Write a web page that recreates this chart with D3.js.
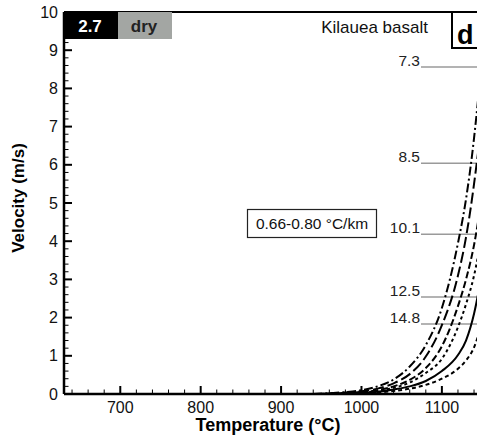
<!DOCTYPE html>
<html><head><meta charset="utf-8">
<script src="https://cdn.jsdelivr.net/npm/d3@7"></script>
<style>body{margin:0;background:#fff;} text{font-family:"Liberation Sans",Arial,sans-serif;}</style>
</head><body>
<svg id="c" width="477" height="437"></svg>
<script>
// ---- data ----
const xTicks = [700, 800, 900, 1000, 1100];
const yTicks = [0,1,2,3,4,5,6,7,8,9,10];
const curveStyles = ["dashdot","longdash","dash","dot","solid","shortdash"];
const tA = [940, 960, 980, 1000, 1020, 1040, 1060, 1080, 1100, 1120, 1130, 1140, 1150, 1160];
const vA = [0, 0.02, 0.05, 0.1, 0.2, 0.38, 0.72, 1.28, 2.25, 3.95, 5.1, 6.7, 8.9, 12];
const tB = [940, 960, 980, 1000, 1020, 1040, 1060, 1080, 1100, 1120, 1130, 1140, 1150, 1160];
const vB = [0, 0.01, 0.04, 0.07, 0.14, 0.28, 0.52, 0.98, 1.8, 3.1, 4.1, 5.5, 7.3, 10];
const tC = [950, 980, 1000, 1020, 1040, 1060, 1080, 1100, 1120, 1130, 1140, 1150, 1160, 1170];
const vC = [0, 0.03, 0.05, 0.1, 0.2, 0.37, 0.68, 1.25, 2.3, 3.0, 3.9, 5.2, 6.8, 9];
const tD = [950, 980, 1000, 1020, 1040, 1060, 1080, 1100, 1120, 1130, 1140, 1150, 1160, 1170];
const vD = [0, 0.02, 0.04, 0.08, 0.16, 0.3, 0.55, 0.92, 1.75, 2.35, 3.1, 4.2, 5.6, 7.5];
const tE = [950, 980, 1000, 1020, 1040, 1060, 1080, 1100, 1120, 1130, 1140, 1150, 1160];
const vE = [0, 0.02, 0.03, 0.06, 0.12, 0.2, 0.34, 0.6, 1.02, 1.4, 2.1, 3.2, 4.6];
const tF = [950, 980, 1000, 1020, 1040, 1060, 1080, 1100, 1120, 1130, 1140, 1150, 1160];
const vF = [0, 0.01, 0.02, 0.04, 0.08, 0.14, 0.24, 0.4, 0.66, 0.88, 1.22, 1.9, 2.8];
const curveT = [tA, tB, tC, tD, tE, tF];
const curveV = [vA, vB, vC, vD, vE, vF];
const gradLabels = ["7.3", "8.5", "10.1", "12.5", "14.8"];
const gradLabelV = [8.56, 6.04, 4.18, 2.54, 1.83];
const boxNum = "2.7";
const boxTag = "dry";
const titleText = "Kilauea basalt";
const panelText = "d";
const noteText = "0.66-0.80 °C/km";

// ---- layout ----
const svg = d3.select("#c");
const L = 64, T = 12, B = 394;
const x = d3.scaleLinear().domain([630, 1200]).range([L, L + 570 * 0.804]);
const y = d3.scaleLinear().domain([0, 10]).range([B, T]);

const dashes = {dashdot:"9,3,2,3", longdash:"11,4", dash:"7,3", dot:"3,3", solid:null, shortdash:"4,3"};

svg.append("defs").append("clipPath").attr("id","pc")
  .append("rect").attr("x", L).attr("y", T).attr("width", 600).attr("height", B - T);

// gradient label leader lines
const lg = svg.append("g");
gradLabels.forEach((lab, i) => {
  const yy = y(gradLabelV[i]);
  lg.append("line").attr("x1", 421).attr("x2", 520).attr("y1", yy).attr("y2", yy)
    .attr("stroke", "#9a9a9a").attr("stroke-width", 1.5);
  lg.append("text").attr("x", 420).attr("y", yy - 1).attr("text-anchor", "end")
    .attr("font-size", 15.5).attr("fill", "#222").text(lab);
});

// curves
const line = d3.line().x(d => x(d[0])).y(d => y(d[1])).curve(d3.curveMonotoneX);
const cg = svg.append("g").attr("clip-path", "url(#pc)");
curveT.forEach((ts, i) => {
  const pts = ts.map((t, j) => [t, curveV[i][j]]);
  const p = cg.append("path").attr("d", line(pts)).attr("fill", "none")
    .attr("stroke", "#000").attr("stroke-width", 2);
  const da = dashes[curveStyles[i]];
  if (da) p.attr("stroke-dasharray", da);
});

// axes ticks (inward)
const ax = svg.append("g");
d3.range(640, 1201, 20).forEach(v => {
  const major = v % 100 === 0;
  ax.append("line").attr("x1", x(v)).attr("x2", x(v)).attr("y1", B).attr("y2", B - (major ? 8 : 4.5))
    .attr("stroke", "#000").attr("stroke-width", major ? 2 : 1);
});
d3.range(0, 10.01, 0.2).forEach(v => {
  const major = Math.abs(v - Math.round(v)) < 1e-6;
  ax.append("line").attr("x1", L).attr("x2", L + (major ? 8 : 4.5)).attr("y1", y(v)).attr("y2", y(v))
    .attr("stroke", "#000").attr("stroke-width", major ? 2 : 1);
});
// frame
ax.append("line").attr("x1", L).attr("x2", 600).attr("y1", B).attr("y2", B).attr("stroke", "#000").attr("stroke-width", 2.5);
ax.append("line").attr("x1", L).attr("x2", L).attr("y1", T).attr("y2", B).attr("stroke", "#000").attr("stroke-width", 2.5);
ax.append("line").attr("x1", L).attr("x2", 600).attr("y1", T).attr("y2", T).attr("stroke", "#000").attr("stroke-width", 2);

// tick labels
xTicks.forEach(v => {
  ax.append("text").attr("x", x(v)).attr("y", 413).attr("text-anchor", "middle")
    .attr("font-size", 16).attr("fill", "#111").text(v);
});
yTicks.forEach(v => {
  ax.append("text").attr("x", 58).attr("y", y(v) + 5.5).attr("text-anchor", "end")
    .attr("font-size", 16).attr("fill", "#111").text(v);
});

// axis titles
svg.append("text").attr("x", 268).attr("y", 431).attr("text-anchor", "middle")
  .attr("font-size", 18).attr("font-weight", "bold").text("Temperature (°C)");
svg.append("text").attr("transform", "translate(24,198) rotate(-90)").attr("text-anchor", "middle")
  .attr("font-size", 17).attr("font-weight", "bold").text("Velocity (m/s)");

// top-left boxes
svg.append("rect").attr("x", L).attr("y", T).attr("width", 54).attr("height", 27).attr("fill", "#000");
svg.append("rect").attr("x", L + 54).attr("y", T).attr("width", 54).attr("height", 27).attr("fill", "#a3a6a3");
svg.append("text").attr("x", L + 26).attr("y", T + 20).attr("text-anchor", "middle")
  .attr("font-size", 17).attr("font-weight", "bold").attr("fill", "#fff").text(boxNum);
svg.append("text").attr("x", L + 80).attr("y", T + 20).attr("text-anchor", "middle")
  .attr("font-size", 17).attr("font-weight", "bold").attr("fill", "#222").text(boxTag);

// title and panel letter
svg.append("text").attr("x", 428).attr("y", 33).attr("text-anchor", "end")
  .attr("font-size", 17).attr("fill", "#111").text(titleText);
svg.append("rect").attr("x", 452).attr("y", T).attr("width", 60).attr("height", 36)
  .attr("fill", "#fff").attr("stroke", "#000").attr("stroke-width", 2);
svg.append("text").attr("x", 457).attr("y", 44).attr("font-size", 27).attr("font-weight", "bold").text(panelText);

// note box
svg.append("rect").attr("x", 247.5).attr("y", 209.5).attr("width", 129).attr("height", 28)
  .attr("fill", "#fff").attr("stroke", "#222").attr("stroke-width", 1.2);
svg.append("text").attr("x", 312).attr("y", 229).attr("text-anchor", "middle")
  .attr("font-size", 15.5).attr("fill", "#111").text(noteText);
</script>
</body></html>
